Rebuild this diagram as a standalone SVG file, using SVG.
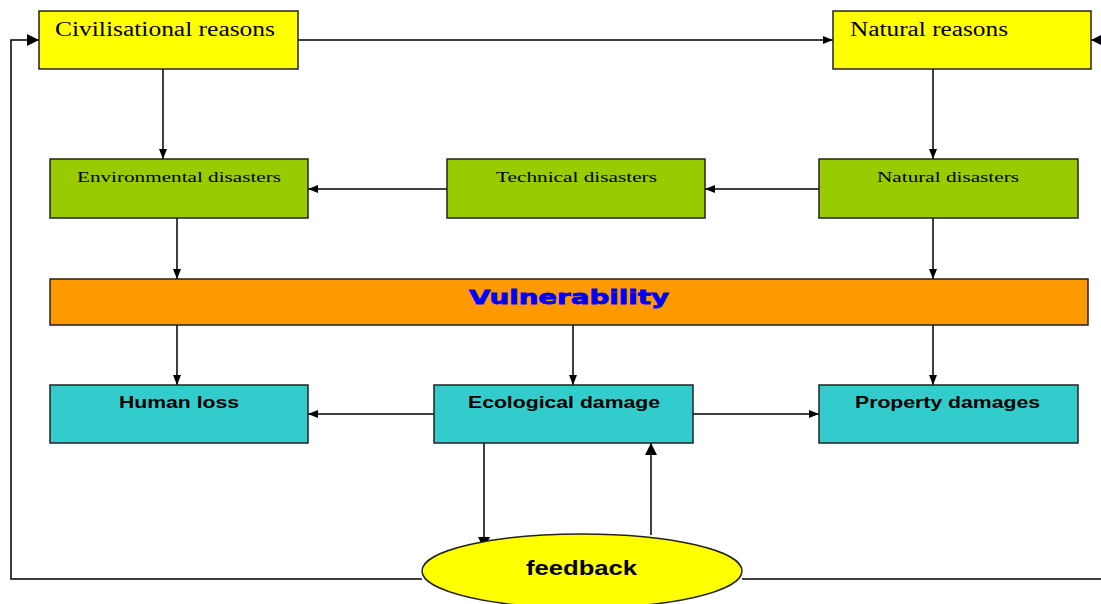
<svg xmlns="http://www.w3.org/2000/svg" width="1101" height="604" viewBox="0 0 1101 604">
<style>
.box{stroke:#222;stroke-width:1.5}
.y{fill:#ffff00}.g{fill:#99cc00}.o{fill:#ff9900}.c{fill:#33cccc}
.ser{font-family:"Liberation Serif",serif;fill:#000}
.san{font-family:"Liberation Sans",Arial,sans-serif;font-weight:bold;fill:#000}
.ln{stroke:#000;stroke-width:1.5;fill:none}
</style>
<defs>
<marker id="a" viewBox="0 0 10 10" refX="10" refY="5" markerWidth="10" markerHeight="10" markerUnits="userSpaceOnUse" orient="auto"><path d="M0,1L10,5L0,9z" fill="#000"/></marker>
<marker id="ab" viewBox="0 0 10 10" refX="10" refY="5" markerWidth="12" markerHeight="12" markerUnits="userSpaceOnUse" orient="auto"><path d="M0,0L10,5L0,10z" fill="#000"/></marker>
</defs>
<rect width="1101" height="604" fill="#fff"/>
<g id="connectors">
<path class="ln" d="M292,40H833" marker-end="url(#a)"/>
<path class="ln" d="M422,579H11V40H39" marker-end="url(#ab)"/>
<path class="ln" d="M742,579H1101"/>
<path class="ln" d="M1101,40H1091" marker-end="url(#ab)"/>
<path class="ln" d="M163,69V159" marker-end="url(#a)"/>
<path class="ln" d="M933,69V159" marker-end="url(#a)"/>
<path class="ln" d="M447,189H308" marker-end="url(#a)"/>
<path class="ln" d="M819,189H705" marker-end="url(#a)"/>
<path class="ln" d="M177,218V279" marker-end="url(#a)"/>
<path class="ln" d="M933,218V279" marker-end="url(#a)"/>
<path class="ln" d="M177,325V385" marker-end="url(#a)"/>
<path class="ln" d="M573,325V385" marker-end="url(#a)"/>
<path class="ln" d="M933,325V385" marker-end="url(#a)"/>
<path class="ln" d="M434,414H308" marker-end="url(#a)"/>
<path class="ln" d="M688,414H819" marker-end="url(#a)"/>
<path class="ln" d="M484,443V549" marker-end="url(#ab)"/>
<path class="ln" d="M651,535V443" marker-end="url(#ab)"/>
</g>
<g id="civilisational"><rect class="box y" x="39" y="11" width="259" height="58"/><text class="ser" x="55" y="36" font-size="20" textLength="220" lengthAdjust="spacingAndGlyphs">Civilisational reasons</text></g>
<g id="natural"><rect class="box y" x="833" y="11" width="258" height="58"/><text class="ser" x="850" y="36" font-size="20" textLength="158" lengthAdjust="spacingAndGlyphs">Natural reasons</text></g>
<g id="environmental"><rect class="box g" x="50" y="159" width="258" height="59"/><text class="ser" x="77" y="182" font-size="15" textLength="204" lengthAdjust="spacingAndGlyphs">Environmental disasters</text></g>
<g id="technical"><rect class="box g" x="447" y="159" width="258" height="59"/><text class="ser" x="496" y="182" font-size="15" textLength="161" lengthAdjust="spacingAndGlyphs">Technical disasters</text></g>
<g id="naturaldis"><rect class="box g" x="819" y="159" width="259" height="59"/><text class="ser" x="877" y="182" font-size="15" textLength="142" lengthAdjust="spacingAndGlyphs">Natural disasters</text></g>
<g id="vulnerability"><rect class="box o" x="50" y="279" width="1038" height="46"/><text x="469" y="304" font-family="'DejaVu Sans',sans-serif" font-weight="bold" font-size="20" fill="#0000ff" stroke="#0000ff" stroke-width="0.8" textLength="200" lengthAdjust="spacingAndGlyphs">Vulnerability</text></g>
<g id="human"><rect class="box c" x="50" y="385" width="258" height="58"/><text class="san" x="119" y="408" font-size="16" textLength="120" lengthAdjust="spacingAndGlyphs">Human loss</text></g>
<g id="ecological"><rect class="box c" x="434" y="385" width="259" height="58"/><text class="san" x="468" y="408" font-size="16" textLength="192" lengthAdjust="spacingAndGlyphs">Ecological damage</text></g>
<g id="property"><rect class="box c" x="819" y="385" width="259" height="58"/><text class="san" x="855" y="408" font-size="16" textLength="185" lengthAdjust="spacingAndGlyphs">Property damages</text></g>
<g id="feedback"><ellipse cx="582" cy="571" rx="160" ry="37" fill="#ffff00" stroke="#222" stroke-width="1.5"/><text class="san" x="526" y="575" font-size="20" textLength="111" lengthAdjust="spacingAndGlyphs">feedback</text></g>
</svg>
